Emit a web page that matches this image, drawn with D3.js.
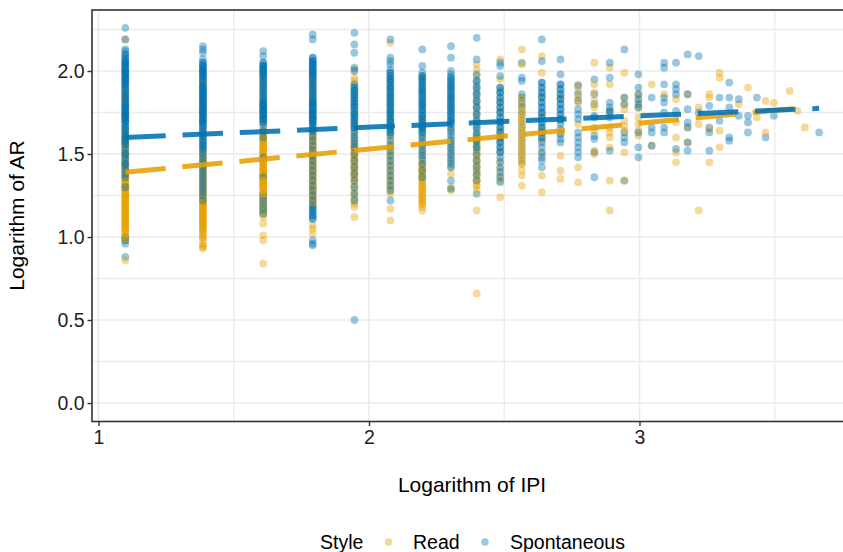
<!DOCTYPE html>
<html>
<head>
<meta charset="utf-8">
<script src="https://cdn.jsdelivr.net/npm/d3@7"></script>
<style>
  html, body { margin: 0; padding: 0; background: #fff; }
  svg { display: block; font-family: "Liberation Sans", Arial, Helvetica, sans-serif; }
</style>
</head>
<body>
<svg id="chart" width="843" height="552"></svg>
<script>
// ---------------- DATA ----------------
// x positions: logarithm of IPI (IPI = 3 ... 39)
const logIPI = [1.099, 1.386, 1.609, 1.792, 1.946, 2.079, 2.197, 2.303, 2.398, 2.485,
                2.565, 2.639, 2.708, 2.773, 2.833, 2.890, 2.944, 2.996, 3.045, 3.091,
                3.135, 3.178, 3.219, 3.258, 3.296, 3.332, 3.367, 3.401, 3.434, 3.466,
                3.497, 3.526, 3.555, 3.584, 3.611, 3.638, 3.664];

// Logarithm of AR observed for "Read" style, one entry per IPI level.
// "v*k" means k observations with the value v.
const readAR = [
  "2.19 2.00 1.95 1.90 1.88 1.86*2 1.84*2 1.82 1.78 1.74 1.70 1.66 1.64 1.62 1.60*2 1.58*2 1.56*2 1.54*2 1.52*2 1.50*2 1.48*2 1.46*2 1.44*2 1.42*2 1.40*2 1.38*2 1.36*3 1.34*3 1.32*3 1.30*3 1.28*3 1.26*3 1.24*3 1.22*3 1.20*3 1.18*3 1.16*3 1.14*3 1.12*3 1.10*3 1.08*3 1.06*3 1.04*2 1.02*2 1.00 0.98 0.86",
  "1.98 1.94*2 1.90 1.86 1.82 1.78 1.74 1.70 1.66 1.62 1.58 1.55 1.52 1.50*2 1.48*2 1.46*2 1.44*2 1.42*2 1.40*2 1.38*2 1.36*2 1.34*2 1.32*2 1.30*2 1.28*2 1.26*2 1.24*2 1.22*3 1.20*3 1.18*3 1.16*3 1.14*3 1.12*3 1.10*3 1.08*3 1.06*3 1.04*2 1.02*2 1.00*2 0.98 0.96 0.95 0.94 0.93",
  "1.98 1.95 1.92 1.89 1.86 1.83 1.80 1.76 1.72 1.68 1.64*2 1.62*3 1.60*3 1.58*3 1.56*3 1.54*3 1.52*3 1.50*3 1.48*3 1.46*3 1.44*3 1.42*3 1.40*3 1.38*3 1.36*3 1.34*3 1.32*3 1.30*3 1.28*2 1.26*2 1.23 1.19 1.15 1.12 1.08 1.01 0.98 0.84",
  "1.96 1.94 1.92 1.90 1.88 1.86 1.84 1.80 1.76 1.72 1.68 1.64 1.62*2 1.60*2 1.58*2 1.56*2 1.54*2 1.52*2 1.50*2 1.48*2 1.46*2 1.44*2 1.42*2 1.40*2 1.38*2 1.36*2 1.34*2 1.32*2 1.30*2 1.28*2 1.26*2 1.24*2 1.22*2 1.20*2 1.18 1.07 1.05 1.02",
  "2.01 1.96 1.94 1.92 1.88 1.84 1.79 1.74 1.70 1.66 1.63 1.60 1.58 1.56 1.54*2 1.52*2 1.50*2 1.48*2 1.46*2 1.44*2 1.42*2 1.40*2 1.38*2 1.36*2 1.34 1.32 1.30 1.28 1.26 1.24 1.22 1.20 1.18 1.12",
  "2.17 1.95 1.90 1.85 1.80 1.75 1.70 1.66 1.62 1.59 1.56 1.54 1.52 1.50 1.48 1.46 1.44 1.42 1.40 1.38 1.36 1.34 1.32 1.30 1.28 1.26 1.17 1.10",
  "1.96 1.88 1.80 1.72 1.66 1.60 1.56 1.52 1.49 1.46 1.44*2 1.42*2 1.40*2 1.38*2 1.36*2 1.34*2 1.32*2 1.30*2 1.28*2 1.26*2 1.24*2 1.22*2 1.20*2 1.18 1.16",
  "1.90 1.84 1.78 1.70 1.64 1.58 1.54 1.50 1.46 1.42 1.38 1.30 1.28",
  "2.04 2.01 1.97 1.92 1.88 1.84 1.80 1.76 1.72 1.68 1.64 1.60*2 1.56*2 1.52*2 1.49*2 1.46*2 1.43*2 1.40*2 1.37*2 1.34*2 1.31*2 1.28 1.16 0.66",
  "2.07 1.95 1.88 1.82 1.76 1.70 1.64 1.58 1.52 1.46 1.41 1.37 1.34 1.24",
  "2.13 2.04 1.84*2 1.80*2 1.76*2 1.72*2 1.68*2 1.64*2 1.60*2 1.56*2 1.52*2 1.48*2 1.44*2 1.40 1.37 1.31",
  "2.09 1.99 1.85 1.74 1.65 1.58 1.50 1.37 1.27",
  "1.84 1.70 1.62 1.49 1.40 1.35",
  "1.92 1.88 1.84 1.81 1.68 1.42 1.33",
  "2.05 1.92 1.87 1.82 1.78 1.66 1.64 1.52 1.50",
  "2.02 1.92 1.76 1.66 1.63 1.60 1.54 1.34 1.16",
  "1.99 1.84 1.80 1.77 1.70 1.67 1.64 1.51 1.34",
  "1.86 1.82 1.78 1.72 1.68 1.64 1.61",
  "1.92 1.55",
  "1.86",
  "1.83 1.69 1.60 1.51 1.45",
  "1.86 1.66 1.57",
  "1.78 1.68 1.16",
  "1.86 1.84 1.65 1.45",
  "1.99 1.96 1.64 1.54",
  "",
  "1.80",
  "1.90",
  "1.72",
  "1.82 1.63",
  "1.81",
  "",
  "1.88",
  "1.76",
  "1.66",
  "",
  ""
];

// Logarithm of AR observed for "Spontaneous" style, one entry per IPI level.
const spontAR = [
  "2.26 2.19 2.13 2.12 2.10*2 2.08*2 2.06*3 2.04*3 2.02*3 2.00*3 1.98*3 1.96*3 1.94*3 1.92*3 1.90*2 1.88*2 1.86*2 1.84*2 1.82*2 1.80*3 1.78*3 1.76*3 1.74*3 1.72*3 1.70*3 1.68*2 1.66*2 1.64*2 1.62*2 1.60*2 1.58*2 1.56*2 1.54 1.52 1.50*2 1.48 1.46 1.44*2 1.42 1.40 1.38 1.36 1.30 1.00*2 0.98*2 0.96 0.88",
  "2.15 2.13 2.11 2.07 2.05*2 2.03*3 2.01*3 1.99*3 1.97*3 1.95*2 1.93*2 1.91*3 1.89*3 1.87*3 1.85*3 1.83*3 1.81*3 1.79*3 1.77*3 1.75*3 1.73*3 1.71*3 1.69*3 1.67*2 1.65*2 1.63*2 1.61*2 1.59*2 1.57*2 1.55*2 1.53*2 1.51 1.49 1.47 1.45 1.43 1.41 1.39 1.37 1.35 1.33 1.31 1.29 1.27 1.25 1.22",
  "2.12 2.09 2.05*2 2.03*3 2.01*3 1.99*3 1.97*2 1.95*2 1.93*2 1.91*2 1.89*2 1.87*2 1.85*2 1.83*2 1.81*3 1.79*3 1.77*3 1.75*3 1.73*3 1.71*3 1.69*2 1.67 1.64 1.60 1.48 1.36 1.26*2 1.24*2 1.22*2 1.20*2 1.18*2 1.16*2 1.14*2",
  "2.22 2.19 2.08*2 2.06*3 2.04*3 2.02*3 2.00*3 1.98*3 1.96*2 1.94*2 1.92*2 1.90*2 1.88*2 1.86*2 1.84*2 1.82*3 1.80*3 1.78*3 1.76*3 1.74*3 1.72*3 1.70*3 1.68*2 1.66*2 1.64*2 1.61 1.58 1.55 1.52 1.49 1.46 1.43 1.40 1.37 1.34 1.31 1.28 1.25 1.22 1.19 1.17*2 1.15*2 1.13*2 1.11*2 0.98 0.96 0.95",
  "2.23 2.16 2.11 2.02 2.00 1.92 1.90*2 1.88*2 1.86*2 1.84*2 1.82*2 1.80*2 1.78*2 1.76*2 1.74*2 1.72*2 1.70*2 1.68*2 1.66*2 1.64 1.62 1.60 1.58 1.56 1.54 1.50 1.46 1.42 1.38 1.34 1.30 1.26 1.22 0.50",
  "2.19 2.08 2.06 2.04 2.01 1.99*2 1.97*2 1.95*2 1.93*2 1.91*2 1.89*2 1.87*2 1.85*2 1.83*2 1.81*2 1.79*2 1.77*2 1.75*2 1.73*2 1.71*2 1.69*2 1.67*2 1.65*2 1.63*2 1.61 1.58 1.55 1.52 1.49 1.46 1.43 1.40 1.37 1.34 1.31 1.28 1.22",
  "2.13 2.03 1.99 1.97*2 1.95*2 1.93*2 1.91*2 1.89*2 1.87*2 1.85*2 1.83*2 1.81*2 1.79*2 1.77*2 1.75*2 1.73*2 1.71*2 1.69*2 1.67*2 1.65*2 1.63*2 1.61 1.59 1.57 1.55 1.53 1.51 1.49 1.47 1.44 1.40 1.36",
  "2.15 2.08 2.00 1.98 1.96*2 1.94*2 1.92*2 1.90*2 1.88*2 1.86*2 1.84*2 1.82*2 1.80*2 1.78*2 1.76*2 1.74*2 1.72*2 1.70*2 1.68*2 1.66 1.64 1.62 1.60 1.58 1.56 1.54 1.52 1.50 1.48 1.46 1.44 1.42 1.34 1.29",
  "2.20 2.07 1.98 1.94*2 1.90*2 1.86*2 1.82*2 1.78*2 1.74*2 1.70*2 1.66*2 1.62*2 1.58*2 1.54*2 1.50 1.46 1.42 1.38 1.34 1.26",
  "2.05 2.03 1.97 1.90*2 1.87*2 1.84*2 1.81*2 1.78*2 1.75*2 1.72*2 1.69*2 1.66*2 1.63*2 1.60*2 1.57*2 1.54*2 1.51*2 1.48 1.45 1.42 1.39 1.36 1.33",
  "2.05 1.96 1.94 1.86 1.82 1.78 1.74 1.70 1.66 1.62 1.58 1.54 1.50 1.46",
  "2.19 2.06 1.93*2 1.90*2 1.87*2 1.84*2 1.81*2 1.78*2 1.75*2 1.72*2 1.69*2 1.66*2 1.63*2 1.60*2 1.57 1.54 1.51 1.48 1.46 1.42",
  "2.07 1.98 1.92*2 1.89*2 1.86*2 1.83*2 1.80*2 1.77*2 1.74*2 1.71*2 1.68 1.65 1.62 1.59 1.57",
  "1.91 1.86 1.82 1.77 1.74 1.71 1.63 1.60 1.57 1.54 1.51 1.48",
  "1.95 1.86 1.80 1.73 1.72 1.61 1.59 1.51 1.36",
  "2.05 1.96 1.81 1.78 1.76 1.75 1.72 1.52",
  "2.13 1.84 1.80 1.63 1.60 1.57 1.34",
  "1.98 1.90 1.86 1.83 1.80 1.78 1.63 1.54 1.48",
  "1.84 1.66 1.63 1.55",
  "2.05 2.02 1.92 1.84 1.81 1.75 1.66 1.63",
  "2.05 1.92 1.89 1.86 1.76 1.53",
  "2.10 1.86 1.77 1.69 1.66 1.57 1.52",
  "2.09 1.75",
  "1.79 1.66 1.63 1.52",
  "1.84 1.70",
  "1.93 1.84 1.78 1.60 1.58",
  "1.83 1.73",
  "1.73 1.69 1.63",
  "1.84",
  "1.60",
  "1.73",
  "",
  "",
  "",
  "",
  "",
  "1.63"
];

// fitted linear trend lines (endpoints, in data units)
const readFitX = [1.099, 3.611];
const readFitY = [1.39, 1.78];
const spontFitX = [1.099, 3.664];
const spontFitY = [1.60, 1.775];

const styles = ["Read", "Spontaneous"];
const styleColors = ["#E69F00", "#0072B2"];

const xTicks = [1, 2, 3];
const xMinor = [1.5, 2.5, 3.5];
const yTicks = [0, 0.5, 1, 1.5, 2];
const yMinor = [0.25, 0.75, 1.25, 1.75, 2.25];

// ---------------- DRAW ----------------
function expand(s) {
  const out = [];
  s.split(/\s+/).filter(t => t.length).forEach(t => {
    const [v, k] = t.split("*");
    const n = k ? +k : 1;
    for (let i = 0; i < n; i++) out.push(+v);
  });
  return out;
}

const svg = d3.select("#chart");
const panel = { left: 92, right: 853, top: 10, bottom: 421.5 };

const x = d3.scaleLinear().domain([1, 3]).range([98.5, 639.5]);
const y = d3.scaleLinear().domain([0, 2]).range([403, 71]);
const color = d3.scaleOrdinal().domain(styles).range(styleColors);

svg.append("defs").append("clipPath").attr("id", "clip")
  .append("rect").attr("x", panel.left).attr("y", panel.top)
  .attr("width", panel.right - panel.left).attr("height", panel.bottom - panel.top);

svg.append("rect").attr("x", panel.left).attr("y", panel.top)
  .attr("width", panel.right - panel.left).attr("height", panel.bottom - panel.top)
  .attr("fill", "#fff");

const grid = svg.append("g").attr("clip-path", "url(#clip)");
grid.selectAll("line.ym").data(yTicks.concat(yMinor)).join("line")
  .attr("x1", panel.left).attr("x2", panel.right)
  .attr("y1", d => y(d)).attr("y2", d => y(d))
  .attr("stroke", "#EBEBEB").attr("stroke-width", d => yTicks.includes(d) ? 1.6 : 1.3);
grid.selectAll("line.xm").data(xTicks.concat(xMinor)).join("line")
  .attr("y1", panel.top).attr("y2", panel.bottom)
  .attr("x1", d => x(d)).attr("x2", d => x(d))
  .attr("stroke", "#EBEBEB").attr("stroke-width", d => xTicks.includes(d) ? 1.6 : 1.3);

// points, interleaved in data order
const pts = [];
logIPI.forEach((lx, i) => {
  const r = expand(readAR[i]), s = expand(spontAR[i]);
  const n = Math.max(r.length, s.length);
  for (let k = 0; k < n; k++) {
    if (k < r.length) pts.push({ x: lx, y: r[k], style: "Read" });
    if (k < s.length) pts.push({ x: lx, y: s[k], style: "Spontaneous" });
  }
});

const plot = svg.append("g").attr("clip-path", "url(#clip)");
plot.selectAll("circle").data(pts).join("circle")
  .attr("cx", d => x(d.x)).attr("cy", d => y(d.y)).attr("r", 3.9)
  .attr("fill", d => color(d.style)).attr("fill-opacity", 0.4);

// trend lines
const fits = [
  { style: "Read", pts: readFitX.map((v, i) => [v, readFitY[i]]) },
  { style: "Spontaneous", pts: spontFitX.map((v, i) => [v, spontFitY[i]]) }
];
const line = d3.line().x(d => x(d[0])).y(d => y(d[1]));
plot.selectAll("path.fit").data(fits).join("path")
  .attr("class", "fit")
  .attr("d", d => line(d.pts))
  .attr("fill", "none")
  .attr("stroke", d => color(d.style))
  .attr("stroke-opacity", 0.88)
  .attr("stroke-width", 5)
  .attr("stroke-dasharray", "40.5 16.8");

// panel border
svg.append("rect").attr("x", panel.left).attr("y", panel.top)
  .attr("width", panel.right - panel.left).attr("height", panel.bottom - panel.top)
  .attr("fill", "none").attr("stroke", "#333").attr("stroke-width", 1.6);

// axes
const yAxis = svg.append("g").attr("transform", `translate(${panel.left},0)`)
  .call(d3.axisLeft(y).tickValues(yTicks).tickFormat(d3.format(".1f")).tickSize(4.5).tickPadding(3));
const xAxis = svg.append("g").attr("transform", `translate(0,${panel.bottom})`)
  .call(d3.axisBottom(x).tickValues(xTicks).tickFormat(d3.format("d")).tickSize(4.5).tickPadding(4));
[yAxis, xAxis].forEach(a => {
  a.select(".domain").remove();
  a.selectAll(".tick line").attr("stroke", "#333").attr("stroke-width", 1.4);
  a.selectAll(".tick text").attr("fill", "#1f1f1f").style("font-size", "19.5px")
    .style("font-family", "'Liberation Sans', Arial, sans-serif");
});

// axis titles
svg.append("text").attr("x", 472).attr("y", 492).attr("text-anchor", "middle")
  .style("font-size", "21px").attr("fill", "#000").text("Logarithm of IPI");
svg.append("text").attr("transform", "translate(24,215.5) rotate(-90)")
  .attr("text-anchor", "middle").style("font-size", "21px").attr("fill", "#000")
  .text("Logarithm of AR");

// legend
const lg = svg.append("g");
lg.append("text").attr("x", 320).attr("y", 548.5).style("font-size", "19.5px").text("Style");
const legendItems = [
  { style: "Read", cx: 388.5, tx: 413 },
  { style: "Spontaneous", cx: 485, tx: 510 }
];
legendItems.forEach(it => {
  lg.append("circle").attr("cx", it.cx).attr("cy", 542).attr("r", 3.7)
    .attr("fill", color(it.style)).attr("fill-opacity", 0.4);
  lg.append("text").attr("x", it.tx).attr("y", 548.5).style("font-size", "19.5px").text(it.style);
});
</script>
</body>
</html>
